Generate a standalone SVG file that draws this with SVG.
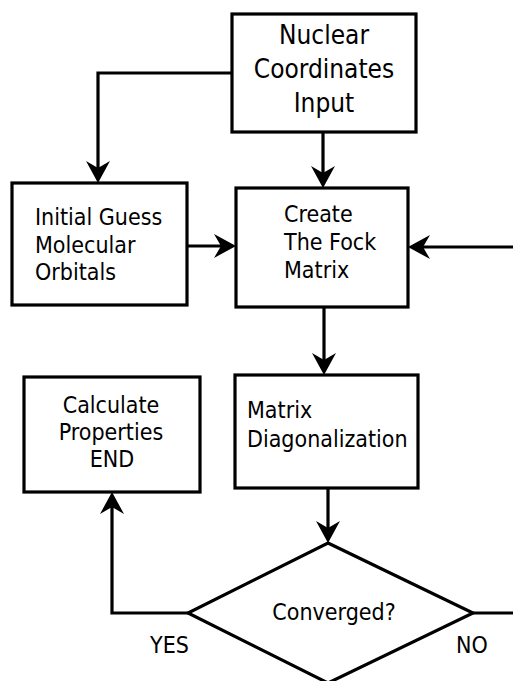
<svg xmlns="http://www.w3.org/2000/svg" width="513" height="681" viewBox="0 0 513 681">
<style>
.box{fill:#fff;stroke:#000;stroke-width:3.2}
.t{font-family:"DejaVu Sans Condensed","DejaVu Sans","Liberation Sans",sans-serif;font-size:23px;fill:#000}
.big{font-size:26px}
.c{text-anchor:middle}
.conn path{fill:none;stroke:#000;stroke-width:3.2}
</style>
<defs>
<marker id="ah" markerUnits="userSpaceOnUse" viewBox="-18 -14 26 28" markerWidth="26" markerHeight="28" refX="0" refY="0" orient="auto" overflow="visible">
<path d="M6,0 L-16,-12 L-9,0 L-16,12 Z" fill="#000"/>
</marker>
</defs>
<rect width="513" height="681" fill="#fff"/>
<g class="conn">
<path d="M232,73 H98 V177" marker-end="url(#ah)"/>
<path d="M323,132 V182" marker-end="url(#ah)"/>
<path d="M188,246 H230" marker-end="url(#ah)"/>
<path d="M513,247 H414" marker-end="url(#ah)"/>
<path d="M324,307 V369" marker-end="url(#ah)"/>
<path d="M328,488 V537" marker-end="url(#ah)"/>
<path d="M188,613 H112 V498" marker-end="url(#ah)"/>
<path d="M473,613 H513"/>
</g>
<g id="nuclear">
<rect class="box" x="232" y="14" width="184" height="118"/>
<text class="t big c" x="324" y="44">Nuclear</text>
<text class="t big c" x="324" y="78">Coordinates</text>
<text class="t big c" x="324" y="112">Input</text>
</g>
<g id="initial">
<rect class="box" x="12" y="183" width="175" height="122"/>
<text class="t" x="35" y="225">Initial Guess</text>
<text class="t" x="35" y="253">Molecular</text>
<text class="t" x="35" y="280">Orbitals</text>
</g>
<g id="fock">
<rect class="box" x="236" y="188" width="172" height="119"/>
<text class="t" x="284" y="222">Create</text>
<text class="t" x="284" y="250">The Fock</text>
<text class="t" x="284" y="278">Matrix</text>
</g>
<g id="calc">
<rect class="box" x="24" y="377" width="176" height="115"/>
<text class="t c" x="111" y="413">Calculate</text>
<text class="t c" x="111" y="440">Properties</text>
<text class="t c" x="112" y="467">END</text>
</g>
<g id="diag">
<rect class="box" x="235" y="375" width="183" height="113"/>
<text class="t" x="247" y="418">Matrix</text>
<text class="t" x="247" y="447">Diagonalization</text>
</g>
<g id="converged">
<polygon class="box" points="328,543 473,613 328,683 188,613"/>
<text class="t c" x="334" y="620">Converged?</text>
</g>
<g id="labels">
<text class="t" x="150" y="653">YES</text>
<text class="t" x="456" y="653">NO</text>
</g>
</svg>
